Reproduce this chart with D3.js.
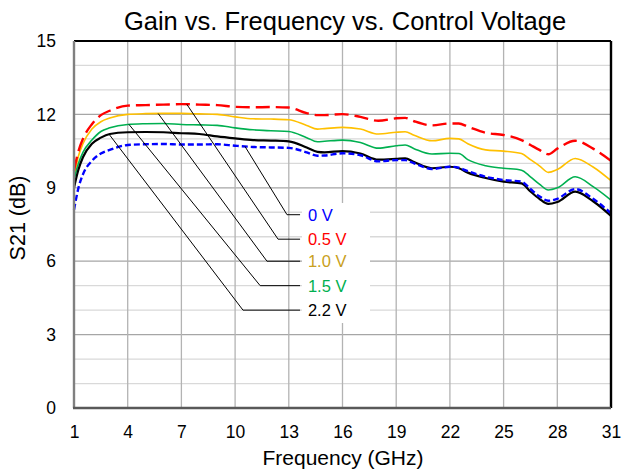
<!DOCTYPE html>
<html>
<head>
<meta charset="utf-8">
<script src="https://cdn.jsdelivr.net/npm/d3@7"></script>
<style>
  body { margin: 0; background: #fff; }
  svg { display: block; font-family: "Liberation Sans", Arial, sans-serif; }
</style>
</head>
<body>
<svg id="chart" width="624" height="470"></svg>
<script>
// frequency points (GHz) shared by every trace
const freqs = [1, 1.25, 1.5, 2, 2.5, 3, 4, 5, 6, 7, 8, 9, 10, 11, 12, 13, 14, 14.6, 15, 16, 17, 18, 19, 19.5, 20, 21, 22, 22.5, 23, 24, 25, 26, 26.5, 27, 27.5, 28, 29, 30, 31];

const gain0V  = [8.1, 9.0, 9.55, 10.1, 10.4, 10.55, 10.75, 10.78, 10.79, 10.77, 10.77, 10.78, 10.72, 10.67, 10.65, 10.63, 10.45, 10.31, 10.32, 10.41, 10.33, 10.08, 10.13, 10.13, 10.0, 9.77, 9.86, 9.82, 9.68, 9.45, 9.32, 9.25, 8.95, 8.65, 8.47, 8.55, 8.95, 8.55, 7.96];
const gain05V = [9.7, 10.5, 11.0, 11.6, 11.97, 12.15, 12.36, 12.38, 12.4, 12.42, 12.4, 12.38, 12.31, 12.29, 12.3, 12.28, 12.05, 11.97, 11.97, 12.01, 11.9, 11.74, 11.84, 11.86, 11.72, 11.55, 11.63, 11.63, 11.5, 11.25, 11.16, 10.95, 10.75, 10.55, 10.37, 10.6, 10.92, 10.6, 10.1];
const gain10V = [9.45, 10.3, 10.8, 11.4, 11.7, 11.85, 12.0, 12.03, 12.04, 12.04, 12.02, 12.0, 11.9, 11.82, 11.81, 11.78, 11.55, 11.4, 11.42, 11.47, 11.4, 11.2, 11.27, 11.29, 11.15, 10.92, 11.02, 11.0, 10.8, 10.55, 10.5, 10.4, 10.15, 9.9, 9.63, 9.75, 10.2, 9.85, 9.29];
const gain15V = [9.32, 10.0, 10.45, 10.95, 11.3, 11.45, 11.59, 11.62, 11.63, 11.59, 11.57, 11.55, 11.45, 11.37, 11.33, 11.3, 11.05, 10.88, 10.9, 10.95, 10.85, 10.62, 10.72, 10.75, 10.6, 10.38, 10.41, 10.4, 10.15, 9.9, 9.8, 9.72, 9.45, 9.15, 8.91, 9.0, 9.45, 9.05, 8.5];
const gain22V = [9.0, 9.75, 10.25, 10.8, 11.05, 11.2, 11.27, 11.28, 11.27, 11.23, 11.2, 11.1, 11.02, 10.95, 10.93, 10.9, 10.65, 10.47, 10.45, 10.5, 10.4, 10.15, 10.18, 10.2, 10.05, 9.8, 9.86, 9.8, 9.62, 9.4, 9.25, 9.18, 8.85, 8.55, 8.34, 8.42, 8.84, 8.45, 7.85];

const voltLabels = ["0 V", "0.5 V", "1.0 V", "1.5 V", "2.2 V"];
const xTicks = [1, 4, 7, 10, 13, 16, 19, 22, 25, 28, 31];
const yTicks = [0, 3, 6, 9, 12, 15];

const series = [
  { name: voltLabels[0], values: gain0V,  color: "#0000ff", text: "#0000ff", width: 2.4, dash: "6,3" },
  { name: voltLabels[1], values: gain05V, color: "#ff0000", text: "#ff0000", width: 2.4, dash: "14,6" },
  { name: voltLabels[2], values: gain10V, color: "#ffc000", text: "#c9a020", width: 1.6, dash: null },
  { name: voltLabels[3], values: gain15V, color: "#00b050", text: "#00b050", width: 1.6, dash: null },
  { name: voltLabels[4], values: gain22V, color: "#000000", text: "#000000", width: 2.2, dash: null }
];

// where each callout touches its trace, and where its elbow sits (GHz, dB)
const callouts = [
  { f: 10.55, elbowF: 12.9,  labelDb: 7.9 },
  { f: 7.3,   elbowF: 12.4,  labelDb: 6.9 },
  { f: 5.7,   elbowF: 11.78, labelDb: 6.0 },
  { f: 4.07,  elbowF: 11.4,  labelDb: 5.0 },
  { f: 2.96,  elbowF: 10.44, labelDb: 4.0 }
];

const svg = d3.select("#chart");
const plotLeft = 74, plotRight = 611, plotTop = 41, plotBottom = 408;

const x = d3.scaleLinear().domain([1, 31]).range([plotLeft, plotRight]);
const y = d3.scaleLinear().domain([0, 15]).range([plotBottom, plotTop]);

// minor horizontal grid (1 dB)
svg.append("g")
  .selectAll("line")
  .data(d3.range(1, 15).filter(v => v % 3 !== 0))
  .join("line")
  .attr("x1", plotLeft).attr("x2", plotRight)
  .attr("y1", d => y(d)).attr("y2", d => y(d))
  .attr("stroke", "#d9d9d9").attr("stroke-width", 1.3);

// major horizontal grid
svg.append("g")
  .selectAll("line")
  .data(yTicks.filter(v => v > 0 && v < 15))
  .join("line")
  .attr("x1", plotLeft).attr("x2", plotRight)
  .attr("y1", d => y(d)).attr("y2", d => y(d))
  .attr("stroke", "#a6a6a6").attr("stroke-width", 1.3);

// vertical grid
svg.append("g")
  .selectAll("line")
  .data(xTicks.slice(1, -1))
  .join("line")
  .attr("x1", d => x(d)).attr("x2", d => x(d))
  .attr("y1", plotTop).attr("y2", plotBottom)
  .attr("stroke", "#b3b3b3").attr("stroke-width", 1.3);

// traces
const line = d3.line()
  .x((d, i) => x(freqs[i]))
  .y(d => y(d))
  .curve(d3.curveMonotoneX);

const traceOrder = [2, 3, 4, 0, 1];
svg.append("g")
  .selectAll("path")
  .data(traceOrder.map(i => series[i]))
  .join("path")
  .attr("d", d => line(d.values))
  .attr("fill", "none")
  .attr("stroke", d => d.color)
  .attr("stroke-width", d => d.width)
  .attr("stroke-dasharray", d => d.dash)
  .attr("stroke-linejoin", "round");

// label box
svg.append("rect")
  .attr("x", 302).attr("y", 203)
  .attr("width", 68).attr("height", 120)
  .attr("fill", "#fff");

const interp = (vals, f) => {
  const i = d3.bisectRight(freqs, f) - 1;
  const j = Math.min(i + 1, freqs.length - 1);
  if (i === j) return vals[i];
  const t = (f - freqs[i]) / (freqs[j] - freqs[i]);
  return vals[i] + t * (vals[j] - vals[i]);
};

const labelEnd = 13.63;
const labelTextF = 14.07;
callouts.forEach((c, i) => {
  const s = series[i];
  svg.append("polyline")
    .attr("points", [
      [x(c.f), y(interp(s.values, c.f))],
      [x(c.elbowF), y(c.labelDb)],
      [x(labelEnd), y(c.labelDb)]
    ].map(p => p.join(",")).join(" "))
    .attr("fill", "none")
    .attr("stroke", "#000")
    .attr("stroke-width", 1);
  svg.append("text")
    .attr("x", x(labelTextF))
    .attr("y", y(c.labelDb))
    .attr("dy", "0.36em")
    .attr("fill", s.text)
    .attr("font-size", 16.5)
    .text(s.name);
});

// frame
svg.append("line").attr("x1", plotLeft).attr("x2", plotRight).attr("y1", plotTop).attr("y2", plotTop)
  .attr("stroke", "#000").attr("stroke-width", 1.8);
svg.append("line").attr("x1", plotRight).attr("x2", plotRight).attr("y1", plotTop).attr("y2", plotBottom)
  .attr("stroke", "#000").attr("stroke-width", 2.4);
svg.append("line").attr("x1", plotLeft).attr("x2", plotLeft).attr("y1", plotTop).attr("y2", plotBottom)
  .attr("stroke", "#808080").attr("stroke-width", 2.4);
svg.append("line").attr("x1", plotLeft - 1).attr("x2", plotRight).attr("y1", plotBottom).attr("y2", plotBottom)
  .attr("stroke", "#595959").attr("stroke-width", 2.4);

// axes tick labels
const xAxis = svg.append("g")
  .attr("transform", `translate(0,${plotBottom})`)
  .call(d3.axisBottom(x).tickValues(xTicks).tickSize(0).tickPadding(18));
xAxis.select(".domain").remove();
xAxis.selectAll("text").attr("font-size", 17.5).attr("fill", "#000")
  .attr("font-family", "Liberation Sans, Arial, sans-serif");

const yAxis = svg.append("g")
  .attr("transform", `translate(${plotLeft},0)`)
  .call(d3.axisLeft(y).tickValues(yTicks).tickSize(0).tickPadding(18));
yAxis.select(".domain").remove();
yAxis.selectAll("text").attr("font-size", 17.5).attr("fill", "#000")
  .attr("font-family", "Liberation Sans, Arial, sans-serif");

// titles
svg.append("text")
  .attr("x", 345).attr("y", 30)
  .attr("text-anchor", "middle")
  .attr("font-size", 25.5)
  .text("Gain vs. Frequency vs. Control Voltage");

svg.append("text")
  .attr("x", 343).attr("y", 465)
  .attr("text-anchor", "middle")
  .attr("font-size", 21)
  .text("Frequency (GHz)");

svg.append("text")
  .attr("transform", "translate(25,218) rotate(-90)")
  .attr("text-anchor", "middle")
  .attr("font-size", 21.5)
  .text("S21 (dB)");
</script>
</body>
</html>
